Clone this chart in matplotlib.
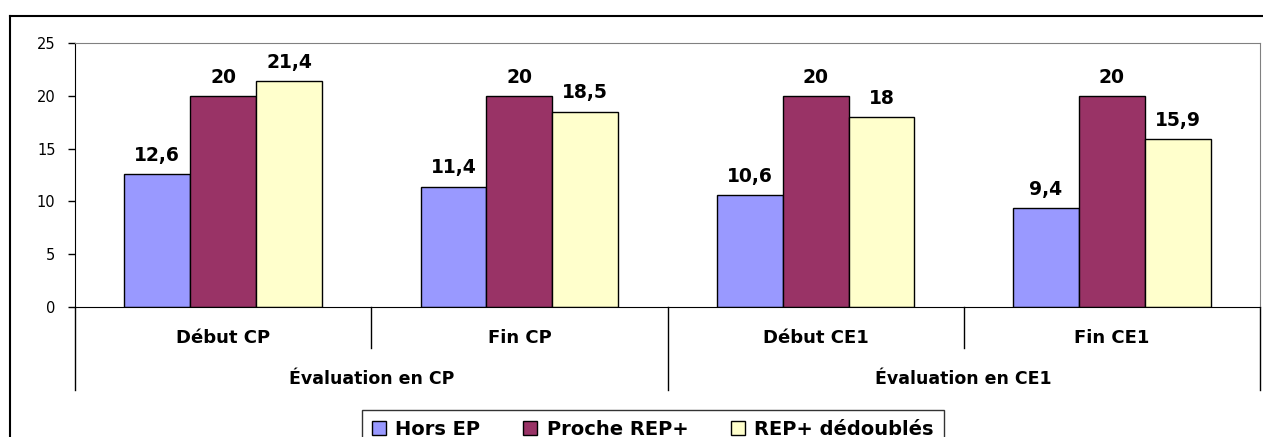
import matplotlib.pyplot as plt
from matplotlib.lines import Line2D
from matplotlib.patches import Patch
import numpy as np

plt.rcParams['font.family'] = ['DejaVu Sans']

sub_labels = ["Début CP", "Fin CP", "Début CE1", "Fin CE1"]
group_labels = ["Évaluation en CP", "Évaluation en CE1"]
series_names = ["Hors EP", "Proche REP+", "REP+ dédoublés"]
hors_ep = [12.6, 11.4, 10.6, 9.4]
proche_rep = [20, 20, 20, 20]
rep_dedoubles = [21.4, 18.5, 18, 15.9]
colors = ["#9999FF", "#993366", "#FFFFCC"]

W, H = 1263, 437
fig = plt.figure(figsize=(W / 100, H / 100), dpi=100)

# plot area in pixels
x0, x1, ytop, ybot = 75, 1260, 43, 307
ax = fig.add_axes([x0 / W, 1 - ybot / H, (x1 - x0) / W, (ybot - ytop) / H])

n = len(sub_labels)
x = np.arange(n)
bw = 1 / 4.5
for i, vals in enumerate([hors_ep, proche_rep, rep_dedoubles]):
    pos = x + (i - 1) * bw
    ax.bar(pos, vals, width=bw, color=colors[i], edgecolor="black", linewidth=1, zorder=2)
    for p, v in zip(pos, vals):
        lab = f"{v:g}".replace(".", ",")
        ax.annotate(lab, (p, v), xytext=(0, 9.5), textcoords="offset points",
                    ha="center", va="baseline", fontsize=13.5, fontweight="bold")

ax.set_xlim(-0.5, n - 0.5)
ax.set_ylim(0, 25)
ax.set_yticks([0, 5, 10, 15, 20, 25])
ax.tick_params(axis="y", length=5, width=1, labelsize=10.5, pad=9, direction="out")
ax.set_xticks([])
for s in ["top", "right"]:
    ax.spines[s].set_color("#808080")
ax.spines["left"].set_color("black")
ax.spines["bottom"].set_color("black")

# category axis labels and dividers
def ypix(py):
    return -(py - ybot) / (ybot - ytop)

for i, lab in enumerate(sub_labels):
    ax.text(i, ypix(336), lab, transform=ax.get_xaxis_transform(), ha="center", va="center_baseline",
            fontsize=13, fontweight="bold")
for j, lab in enumerate(group_labels):
    ax.text(2 * j + 0.5, ypix(377), lab, transform=ax.get_xaxis_transform(), ha="center",
            va="center_baseline", fontsize=12.5, fontweight="bold")
for b in np.arange(-0.5, n, 1):
    long_line = (b + 0.5) % 2 == 0
    yend = ypix(390) if long_line else ypix(348)
    ax.add_line(Line2D([b, b], [0, yend], transform=ax.get_xaxis_transform(),
                       color="black", linewidth=1, clip_on=False))

# outer chart frame
fig.add_artist(Line2D([10 / W, 10 / W], [0, 1 - 16 / H], color="black", linewidth=1.5))
fig.add_artist(Line2D([10 / W, 1], [1 - 16 / H, 1 - 16 / H], color="black", linewidth=1.5))

handles = [Patch(facecolor=c, edgecolor="black", label=l) for c, l in zip(colors, series_names)]
leg = fig.legend(handles=handles, loc="upper center", bbox_to_anchor=(653 / W, 1 - 410 / H), ncol=3,
                 frameon=True, fancybox=False, edgecolor="black", prop={"weight": "bold", "size": 14},
                 handlelength=0.7, handleheight=0.7, handletextpad=0.5, columnspacing=2.2,
                 borderpad=0.5, borderaxespad=0)
leg.get_frame().set_linewidth(1)

fig.savefig("out.png", dpi=100)
